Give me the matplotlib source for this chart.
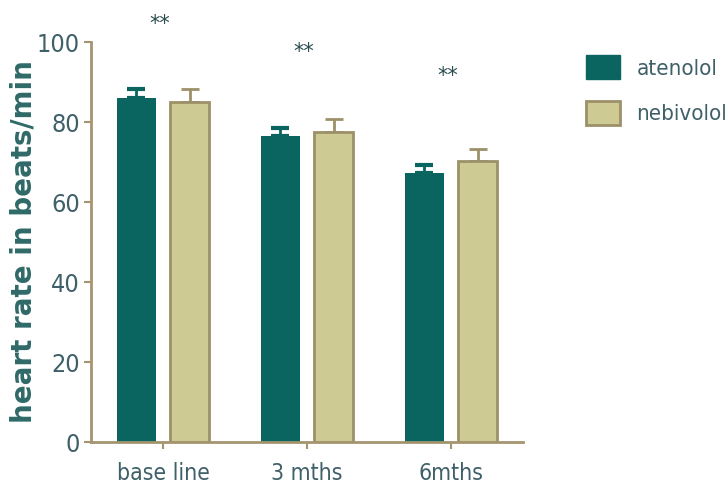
import matplotlib
matplotlib.use("Agg")
import matplotlib.pyplot as plt
import numpy as np

# Data
groups = ["base line", "3 mths", "6mths"]
atenolol = [86.0, 76.5, 67.3]
atenolol_err = [2.2, 2.0, 2.0]
nebivolol = [85.0, 77.5, 70.3]
nebivolol_err = [3.2, 3.2, 3.0]
star_heights = [104.5, 97.5, 91.5]
y_ticks = [0, 20, 40, 60, 80, 100]

teal = "#0a6560"
khaki = "#cdca93"
khaki_edge = "#9c9068"
axis_col = "#a5956f"
text_col = "#3f6068"

narrow = dict(family=["DejaVu Sans", "Liberation Sans"], stretch="condensed")

fig = plt.figure(figsize=(7.27, 4.87), dpi=100)
ax = fig.add_axes([91 / 727, 1 - 442 / 487, 432 / 727, 400 / 487])

x = np.arange(len(groups))
off, w = 0.185, 0.27
ax.bar(x - off, atenolol, w, color=teal, edgecolor=teal, linewidth=0, zorder=2)
ax.bar(x + off, nebivolol, w, color=khaki, edgecolor=khaki_edge, linewidth=2, zorder=2)

# one-sided error bars
ax.errorbar(x - off, atenolol, yerr=[np.zeros(3), atenolol_err], fmt="none",
            ecolor=teal, elinewidth=2, capsize=6.5, capthick=3, zorder=1)
ax.errorbar(x + off, nebivolol, yerr=[np.zeros(3), nebivolol_err], fmt="none",
            ecolor=khaki_edge, elinewidth=2, capsize=6.5, capthick=2, zorder=1)

for xi, h in zip(x, star_heights):
    ax.text(xi - 0.02, h, "**", ha="center", va="center", fontsize=15,
            color="#2a4c4f", clip_on=False)

ax.set_xlim(-0.5, 2.5)
ax.set_ylim(0, 100)
ax.set_yticks(y_ticks)
ax.set_xticks(x)
ax.set_xticklabels(groups)

for s in ["top", "right"]:
    ax.spines[s].set_visible(False)
for s in ["left", "bottom"]:
    ax.spines[s].set_color(axis_col)
    ax.spines[s].set_linewidth(2)

ax.tick_params(axis="both", colors=axis_col, width=1.5, length=5)
ax.tick_params(axis="y", pad=3)
ax.tick_params(axis="x", pad=9.5)
for lab in ax.get_yticklabels():
    lab.set(**narrow, fontsize=18, color=text_col)
for lab in ax.get_xticklabels():
    lab.set(**narrow, fontsize=16.5, color=text_col)

ax.set_ylabel("heart rate in beats/min", fontsize=20, fontweight="bold",
              color="#2f6a68", family=["DejaVu Sans"])
ax.yaxis.set_label_coords(-(91 - 38) / 432, 0.5)

# legend
handles = [plt.Rectangle((0, 0), 1, 1, facecolor=teal, edgecolor=teal),
           plt.Rectangle((0, 0), 1, 1, facecolor=khaki, edgecolor=khaki_edge, linewidth=2)]
leg = fig.legend(handles, ["atenolol", "nebivolol"], loc="upper left",
                 bbox_to_anchor=(583 / 727, 1 - 52 / 487), frameon=False,
                 prop=dict(**narrow, size=16), handlelength=1.5,
                 handleheight=1.25, labelspacing=1.0, handletextpad=0.75,
                 borderaxespad=0, borderpad=0.15)
for t in leg.get_texts():
    t.set_color(text_col)

fig.savefig("out.png", dpi=100)
